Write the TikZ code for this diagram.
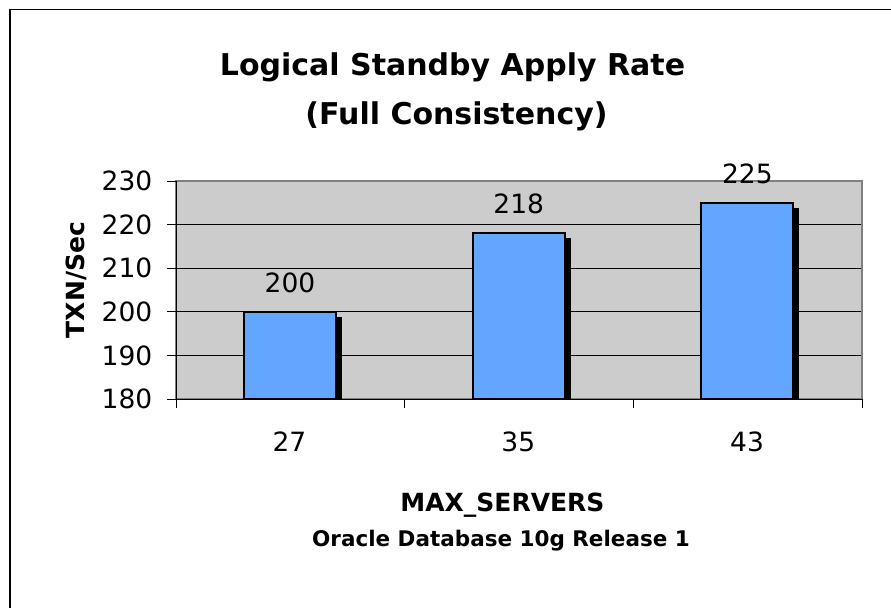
\documentclass[tikz,border=0pt]{standalone}
\usepackage{fontspec}
\setmainfont{DejaVu Sans}
\usetikzlibrary{positioning}
\definecolor{PlotBg}{HTML}{CCCCCC}
\definecolor{PlotBorder}{HTML}{808080}
\definecolor{BarBlue}{HTML}{62A6FF}

\begin{document}
\begin{tikzpicture}[x=1pt, y=-1pt,
    node distance=19pt,
    ticklabel/.style={font=\fontsize{26.5}{30}\selectfont, inner sep=0pt},
    axislabel/.style={font=\bfseries\fontsize{25}{29}\selectfont, inner sep=0pt},
    titlelabel/.style={font=\bfseries\fontsize{30}{36}\selectfont, inner sep=0pt},
    barbox/.style={fill=BarBlue, draw=black, line width=2pt},
    barshadow/.style={fill=black},
    gridline/.style={draw=black, line width=0.8pt},
    axisline/.style={draw=black, line width=1pt}]

    \path [use as bounding box, fill=white] (0,0) rectangle (891,608);

    % outer frame, right and bottom edges fall off the page
    \draw[line width=1.5pt] (891,9.5) -- (10,9.5) -- (10,608);

    \node[name=title, titlelabel, anchor=base] at (452.5,75) {Logical Standby Apply Rate};
    \node[name=subtitle, titlelabel, anchor=base] at (456.5,124.3) {(Full Consistency)};

    % plot area
    \fill[PlotBg] (176,181) rectangle (862,399);
    \foreach \gy in {224.6,268.2,311.8,355.4}
      \draw[gridline] (176,\gy) -- (862,\gy);
    \draw[PlotBorder, line width=1.2pt] (176,181) rectangle (862,399);

    % axes and ticks
    \draw[axisline] (176,181) -- (176,399) -- (862,399);
    \foreach \gy in {181,224.6,268.2,311.8,355.4,399}
      \draw[axisline] (167,\gy) -- (176,\gy);
    \foreach \gx in {176,404.7,633.3,862}
      \draw[axisline] (\gx,399) -- (\gx,408);

    \foreach \val/\gy in {230/181,220/224.6,210/268.2,200/311.8,190/355.4,180/399}
      \node[name=ytick\val, ticklabel, anchor=east] at (152.5,\gy) {\val};

    % bars with their drop shadows
    \fill[barshadow] (250,316.8) rectangle (342,399);
    \draw[barbox] (244,399) rectangle (336,311.8);
    \coordinate (top27) at (290,311.8);

    \fill[barshadow] (478.7,238.3) rectangle (570.7,399);
    \draw[barbox] (472.7,399) rectangle (564.7,233.3);
    \coordinate (top35) at (518.7,233.3);

    \fill[barshadow] (707.4,207.8) rectangle (799.4,399);
    \draw[barbox] (701.4,399) rectangle (793.4,202.8);
    \coordinate (top43) at (747.4,202.8);

    \node[name=val27, ticklabel, above=of top27] {200};
    \node[name=val35, ticklabel, above=of top35] {218};
    \node[name=val43, ticklabel, above=of top43] {225};

    \node[name=cat27, ticklabel] at (289.5,442) {27};
    \node[name=cat35, ticklabel] at (518.3,442) {35};
    \node[name=cat43, ticklabel] at (747,442) {43};

    \node[name=xlabel, axislabel, anchor=base] at (502.5,511) {MAX\_SERVERS};
    \node[name=release, anchor=base, inner sep=0pt,
      font=\bfseries\fontsize{21.5}{25}\selectfont] at (501,546.7) {Oracle Database 10g Release 1};
    \node[name=ylabel, axislabel, rotate=90, anchor=base] at (84,280) {TXN/Sec};
\end{tikzpicture}
\end{document}
